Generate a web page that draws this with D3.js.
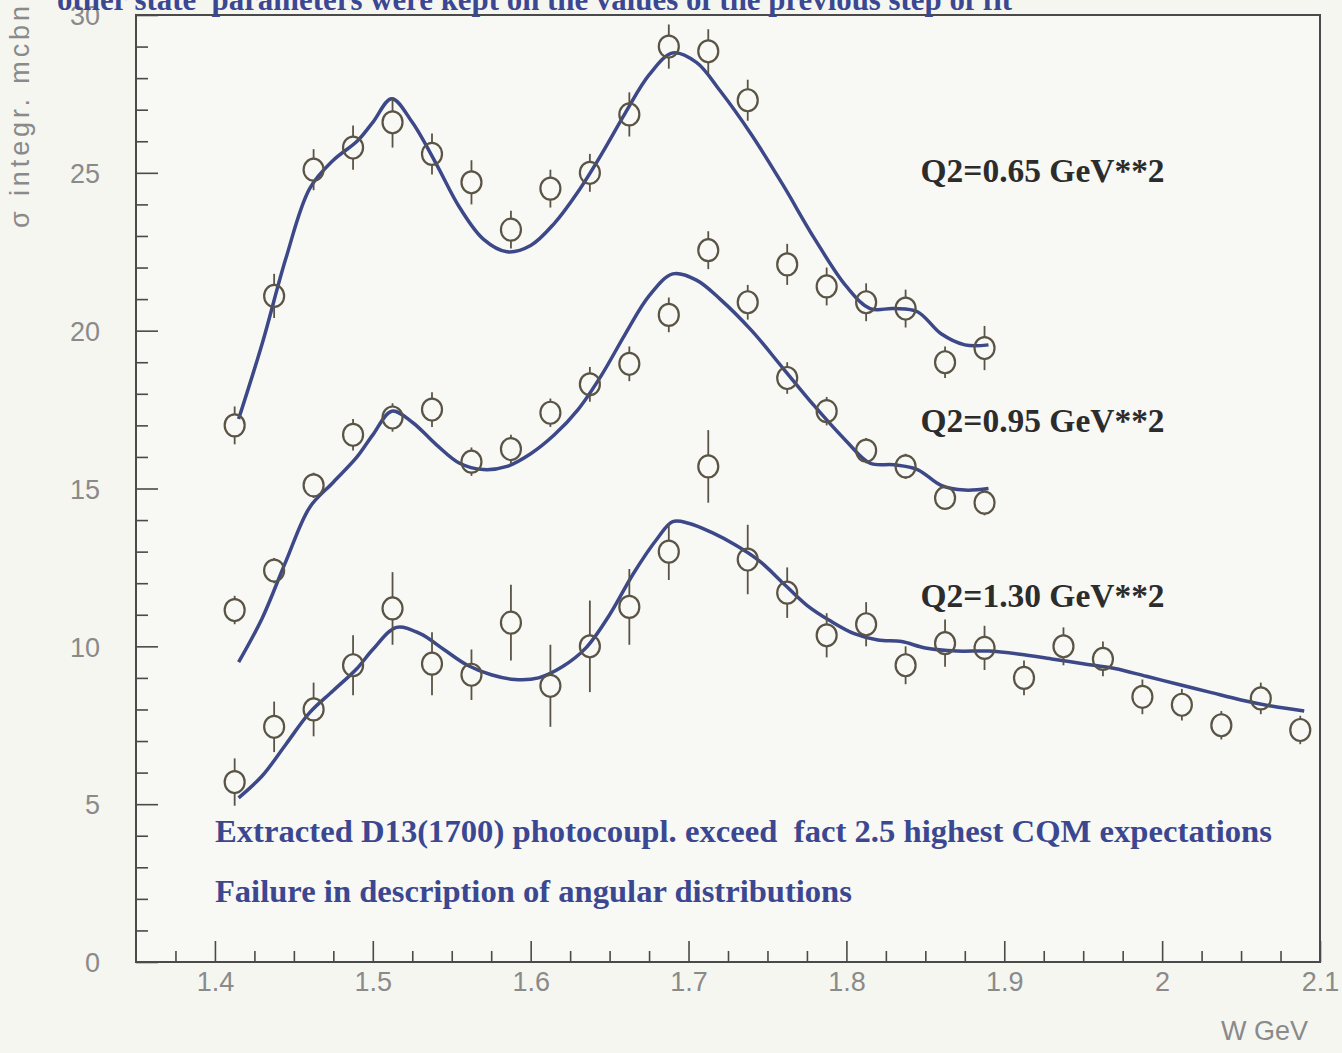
<!DOCTYPE html>
<html>
<head>
<meta charset="utf-8">
<script src="https://cdn.jsdelivr.net/npm/d3@7"></script>
<style>
    html, body { margin: 0; padding: 0; background: #f6f6f1; }
    svg { display: block; }
    .tick-label { font-family: "Liberation Sans", Arial, sans-serif; font-size: 27px; fill: #8a8a8a; }
    .q2-label { font-family: "Liberation Serif", "Times New Roman", serif; font-weight: bold; font-size: 33px; fill: #2c2c2c; }
    .note { font-family: "Liberation Serif", "Times New Roman", serif; font-weight: bold; font-size: 32px; fill: #3b4891; white-space: pre; }
</style>
</head>
<body>
<div id="chart"></div>
<script>
// --------- DATA ---------

// W bins (GeV)
const wBins = [1.4125, 1.4375, 1.4625, 1.4875, 1.5125, 1.5375, 1.5625, 1.5875, 1.6125, 1.6375,
               1.6625, 1.6875, 1.7125, 1.7375, 1.7625, 1.7875, 1.8125, 1.8375, 1.8625, 1.8875,
               1.9125, 1.9375, 1.9625, 1.9875, 2.0125, 2.0375, 2.0625, 2.0875];

// Q2 = 0.65 GeV**2
const sigma065 = [17.0, 21.1, 25.1, 25.8, 26.6, 25.6, 24.7, 23.2, 24.5, 25.0,
                  26.85, 29.0, 28.85, 27.3, 22.1, 21.4, 20.9, 20.7, 19.0, 19.45];
const err065 = [0.6, 0.7, 0.65, 0.7, 0.8, 0.65, 0.7, 0.6, 0.6, 0.6,
                0.7, 0.7, 0.7, 0.65, 0.65, 0.6, 0.6, 0.6, 0.5, 0.7];

// Q2 = 0.95 GeV**2
const sigma095 = [11.15, 12.4, 15.1, 16.7, 17.25, 17.5, 15.85, 16.25, 17.4, 18.3,
                  18.95, 20.5, 22.55, 20.9, 18.5, 17.45, 16.2, 15.7, 14.7, 14.55];
const err095 = [0.45, 0.4, 0.4, 0.5, 0.45, 0.55, 0.45, 0.45, 0.45, 0.55,
                0.55, 0.55, 0.6, 0.55, 0.5, 0.45, 0.4, 0.4, 0.35, 0.4];

// Q2 = 1.30 GeV**2
const sigma130 = [5.7, 7.45, 8.0, 9.4, 11.2, 9.45, 9.1, 10.75, 8.75, 10.0,
                  11.25, 13.0, 15.7, 12.75, 11.7, 10.35, 10.7, 9.4, 10.1, 9.95,
                  9.0, 10.0, 9.6, 8.4, 8.15, 7.5, 8.35, 7.35];
const err130 = [0.75, 0.8, 0.85, 0.95, 1.15, 1.0, 0.8, 1.2, 1.3, 1.45,
                1.2, 0.9, 1.15, 1.1, 0.8, 0.7, 0.7, 0.6, 0.75, 0.7,
                0.55, 0.6, 0.55, 0.55, 0.5, 0.45, 0.5, 0.45];

// fit curves
const fitW065 = [1.415, 1.43, 1.445, 1.46, 1.475, 1.49, 1.50, 1.512, 1.525, 1.54, 1.555, 1.57, 1.585, 1.60,
                 1.615, 1.63, 1.645, 1.66, 1.675, 1.69, 1.705, 1.72, 1.74, 1.76, 1.78, 1.80, 1.815, 1.83,
                 1.845, 1.86, 1.875, 1.89];
const fit065 = [17.2, 19.6, 22.3, 24.5, 25.4, 26.0, 26.6, 27.35, 26.6, 25.3, 23.9, 22.9, 22.5, 22.7,
                23.4, 24.4, 25.6, 26.9, 28.1, 28.8, 28.5, 27.6, 26.2, 24.6, 22.9, 21.4, 20.7, 20.7,
                20.6, 19.9, 19.55, 19.55];

const fitW095 = fitW065;
const fit095 = [9.5, 10.9, 12.7, 14.4, 15.2, 16.0, 16.7, 17.45, 17.1, 16.4, 15.8, 15.6, 15.7, 16.1,
                16.7, 17.5, 18.6, 19.9, 21.1, 21.8, 21.6, 21.0, 20.0, 18.8, 17.6, 16.5, 15.8, 15.75,
                15.6, 15.1, 14.95, 15.0];

const fitW130 = [1.415, 1.43, 1.445, 1.46, 1.475, 1.49, 1.50, 1.515, 1.53, 1.545, 1.56, 1.575, 1.59, 1.605,
                 1.62, 1.635, 1.65, 1.665, 1.68, 1.69, 1.70, 1.715, 1.73, 1.745, 1.76, 1.775, 1.79, 1.805,
                 1.82, 1.835, 1.85, 1.87, 1.89, 1.91, 1.93, 1.95, 1.97, 1.99, 2.01, 2.03, 2.05, 2.07, 2.09];
const fit130 = [5.2, 5.9, 6.9, 7.9, 8.6, 9.3, 9.9, 10.6, 10.4, 9.9, 9.4, 9.1, 8.95, 9.0,
                9.35, 9.95, 11.0, 12.3, 13.4, 13.95, 13.9, 13.6, 13.2, 12.7, 12.0, 11.3, 10.8, 10.4,
                10.2, 10.15, 9.95, 9.85, 9.85, 9.75, 9.6, 9.45, 9.3, 9.05, 8.8, 8.55, 8.3, 8.1, 7.95];

// axis ticks
const xTicks = [1.4, 1.5, 1.6, 1.7, 1.8, 1.9, 2.0, 2.1];
const yTicks = [0, 5, 10, 15, 20, 25, 30];

const series = [
    {name: "Q2=0.65 GeV**2", y: sigma065, err: err065, fitW: fitW065, fit: fit065, labelW: 1.847, labelS: 24.7},
    {name: "Q2=0.95 GeV**2", y: sigma095, err: err095, fitW: fitW095, fit: fit095, labelW: 1.847, labelS: 16.8},
    {name: "Q2=1.30 GeV**2", y: sigma130, err: err130, fitW: fitW130, fit: fit130, labelW: 1.847, labelS: 11.25}
];

// --------- GRAPHING ---------

let margin = {top: 15, right: 22, bottom: 91, left: 136},
    width = 1342 - margin.left - margin.right,
    height = 1053 - margin.top - margin.bottom;

let svg = d3.select("#chart")
    .append("svg")
    .attr("width", 1342)
    .attr("height", 1053);

let graph = svg.append("g")
    .attr("transform", "translate(" + margin.left + "," + margin.top + ")");

let xScale = d3.scaleLinear().domain([1.35, 2.1]).range([0, width]);
let yScale = d3.scaleLinear().domain([0, 30]).range([height, 0]);

// Title (cut by the top of the page)
svg.append("text")
    .attr("class", "note")
    .attr("x", 57)
    .attr("y", 10)
    .attr("font-size", 31)
    .attr("fill", "#2f3d88")
    .attr("textLength", 955)
    .attr("lengthAdjust", "spacingAndGlyphs")
    .text("other state  parameters were kept on the values of the previous step of fit");

// Frame
graph.append("rect")
    .attr("width", width)
    .attr("height", height)
    .attr("fill", "#f8f8f4")
    .attr("stroke", "#4a4a4a")
    .attr("stroke-width", 2);

// Ticks (pointing inward, PAW style)
let xMinor = d3.range(1.375, 2.1, 0.025).filter(v => Math.abs(v * 10 - Math.round(v * 10)) > 1e-6);
graph.append("g")
    .attr("transform", "translate(0," + height + ")")
    .call(d3.axisBottom(xScale).tickValues(xMinor).tickSize(-11).tickFormat(""))
    .call(g => g.select(".domain").remove())
    .call(g => g.selectAll("line").attr("stroke", "#4a4a4a").attr("stroke-width", 1.6));

graph.append("g")
    .attr("transform", "translate(0," + height + ")")
    .call(d3.axisBottom(xScale).tickValues(xTicks).tickSize(-21).tickPadding(10).tickFormat(d3.format("")))
    .call(g => g.select(".domain").remove())
    .call(g => g.selectAll("line").attr("stroke", "#4a4a4a").attr("stroke-width", 1.6))
    .call(g => g.selectAll("text").attr("class", "tick-label").attr("fill", null));

let yMinor = d3.range(1, 30, 1).filter(v => v % 5 !== 0);
graph.append("g")
    .call(d3.axisLeft(yScale).tickValues(yMinor).tickSize(-12).tickFormat(""))
    .call(g => g.select(".domain").remove())
    .call(g => g.selectAll("line").attr("stroke", "#4a4a4a").attr("stroke-width", 1.6));

graph.append("g")
    .call(d3.axisLeft(yScale).tickValues(yTicks).tickSize(-22).tickPadding(36).tickFormat(d3.format("")))
    .call(g => g.select(".domain").remove())
    .call(g => g.selectAll("line").attr("stroke", "#4a4a4a").attr("stroke-width", 1.6))
    .call(g => g.selectAll("text").attr("class", "tick-label").attr("fill", null).attr("dy", "0.36em"));

// Axis titles
svg.append("text")
    .attr("class", "tick-label")
    .attr("font-size", 24)
    .attr("text-anchor", "end")
    .attr("x", 1308)
    .attr("y", 1040)
    .text("W GeV");

svg.append("text")
    .attr("class", "tick-label")
    .attr("font-size", 23)
    .attr("transform", "translate(29,228) rotate(-90)")
    .attr("textLength", 222)
    .attr("lengthAdjust", "spacing")
    .text("σ integr. mcbn");

// Fit curves
let line = d3.line()
    .x(d => xScale(d[0]))
    .y(d => yScale(d[1]))
    .curve(d3.curveCatmullRom.alpha(0.5));

series.forEach(s => {
    graph.append("path")
        .attr("fill", "none")
        .attr("stroke", "#3c4888")
        .attr("stroke-width", 3.5)
        .attr("stroke-linejoin", "round")
        .attr("d", line(s.fitW.map((w, i) => [w, s.fit[i]])));
});

// Data points with error bars
const rx = 10, ry = 11;
series.forEach(s => {
    let pts = s.y.map((v, i) => ({w: wBins[i], v: v, e: s.err[i]}));
    let g = graph.append("g")
        .attr("stroke", "#5a5446")
        .attr("fill", "none");

    pts.forEach(p => {
        let cx = xScale(p.w), cy = yScale(p.v);
        let top = yScale(p.v + p.e), bot = yScale(p.v - p.e);
        if (cy - top > ry) {
            g.append("line").attr("x1", cx).attr("x2", cx).attr("y1", top).attr("y2", cy - ry).attr("stroke-width", 1.8);
            g.append("line").attr("x1", cx).attr("x2", cx).attr("y1", cy + ry).attr("y2", bot).attr("stroke-width", 1.8);
        }
        g.append("ellipse")
            .attr("cx", cx).attr("cy", cy)
            .attr("rx", rx).attr("ry", ry)
            .attr("stroke-width", 2.2);
    });

    graph.append("text")
        .attr("class", "q2-label")
        .attr("x", xScale(s.labelW))
        .attr("y", yScale(s.labelS))
        .attr("textLength", 244)
        .attr("lengthAdjust", "spacingAndGlyphs")
        .text(s.name);
});

// Notes
graph.append("text")
    .attr("class", "note")
    .attr("x", xScale(1.4))
    .attr("y", yScale(3.8))
    .attr("textLength", 1057)
    .attr("lengthAdjust", "spacingAndGlyphs")
    .text("Extracted D13(1700) photocoupl. exceed  fact 2.5 highest CQM expectations");

graph.append("text")
    .attr("class", "note")
    .attr("x", xScale(1.4))
    .attr("y", yScale(1.9))
    .attr("textLength", 637)
    .attr("lengthAdjust", "spacingAndGlyphs")
    .text("Failure in description of angular distributions");
</script>
</body>
</html>
